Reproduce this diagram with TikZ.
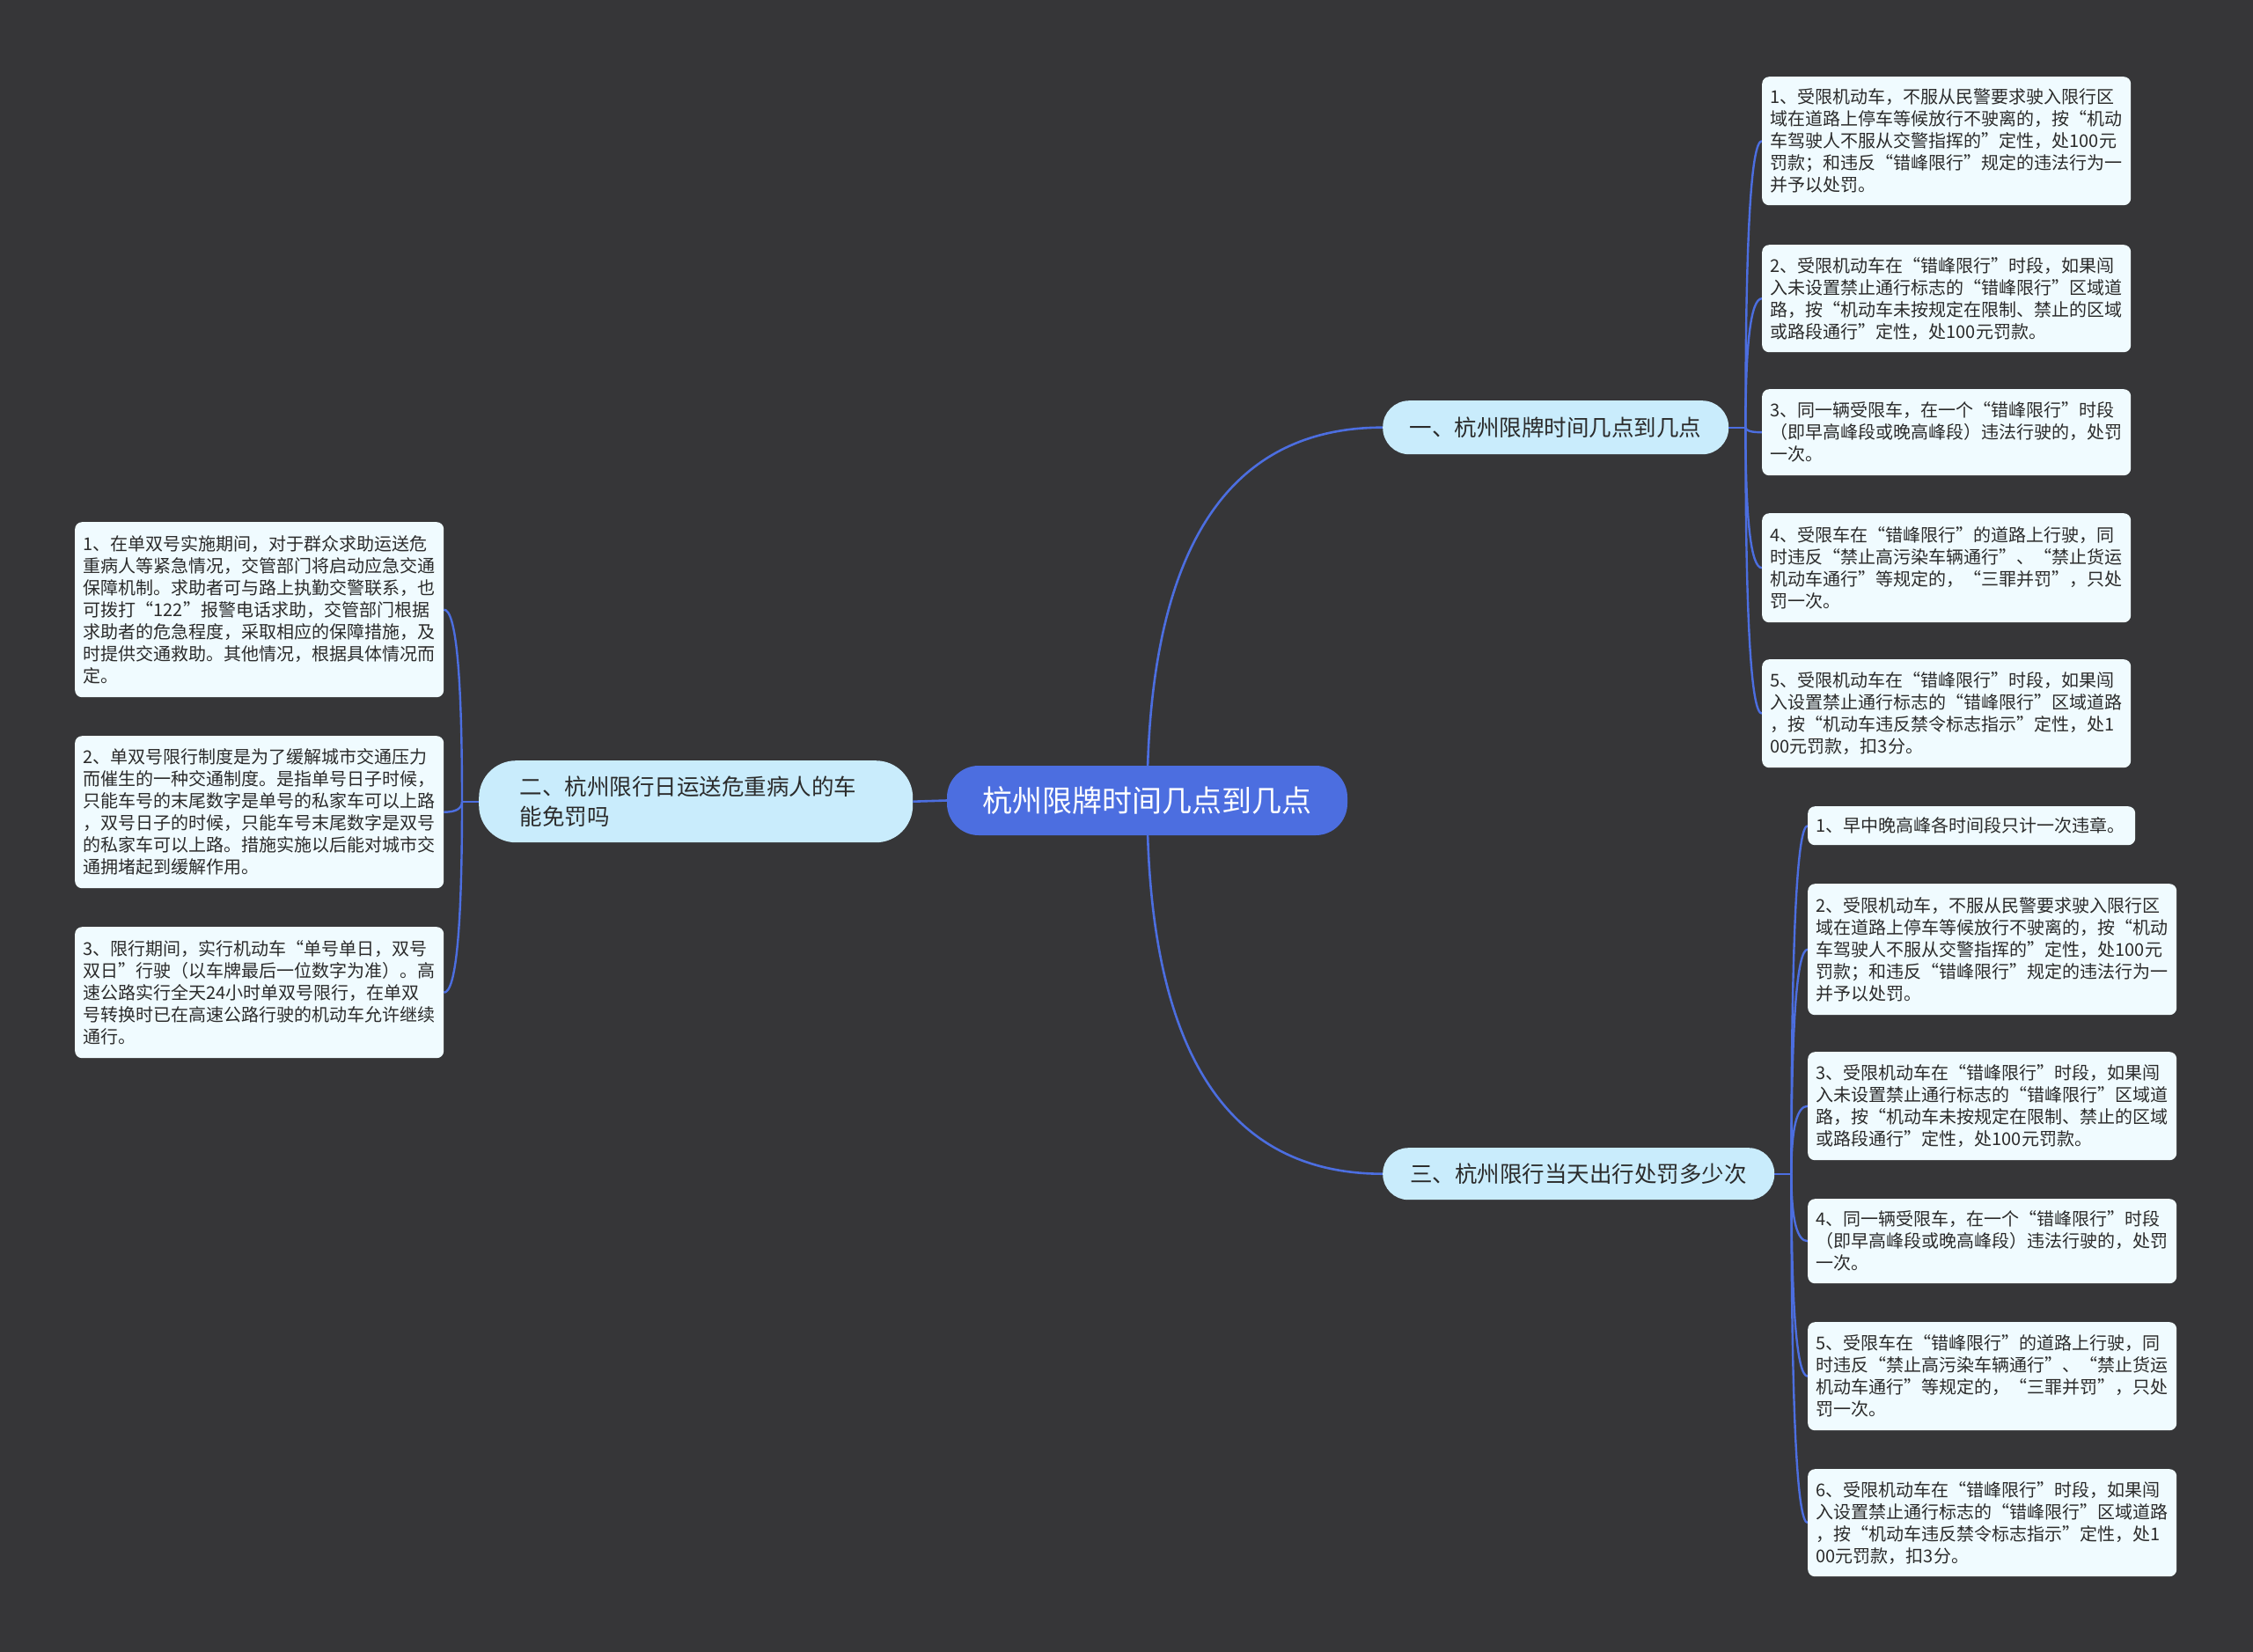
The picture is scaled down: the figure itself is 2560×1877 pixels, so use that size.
\documentclass[tikz,border=0pt]{standalone}
\usepackage{fontspec}
\setmainfont{Noto Sans CJK SC}
\usetikzlibrary{calc,backgrounds}
\definecolor{bgc}{HTML}{363638}
\definecolor{bluec}{HTML}{4C6EE0}
\definecolor{branchfill}{HTML}{C9ECFC}
\definecolor{leaffill}{HTML}{F0FBFF}
\definecolor{textc}{HTML}{2B2B2B}
\tikzset{
  leaf/.style={anchor=north west, fill=leaffill, rounded corners=8pt, text width=400pt,
    inner xsep=9.5pt, inner ysep=0pt, align=left, text=textc,
    font=\fontsize{20pt}{25pt}\selectfont},
  branch/.style={anchor=north west, fill=branchfill, text=textc, inner sep=0pt,
    font=\fontsize{25.5pt}{34pt}\selectfont},
  root/.style={fill=bluec, text=white, inner sep=0pt, rounded corners=36pt,
    minimum width=455pt, minimum height=79pt, font=\fontsize{34pt}{40pt}\selectfont},
  conn/.style={draw=bluec, line width=2.6pt},
  sub/.style={draw=bluec, line width=2.4pt}
}
\begin{document}
\begin{tikzpicture}[x=1pt,y=-1pt]
\useasboundingbox (0,0) rectangle (2560,1877);
% root and branches
\node[root] (c) at (1303.5,909.5) {杭州限牌时间几点到几点};
\node[branch, rounded corners=30pt, minimum width=393pt, minimum height=61pt] (b1) at (1571,455) {一、杭州限牌时间几点到几点};
\node[branch, rounded corners=29pt, minimum width=445pt, minimum height=59pt] (b3) at (1571,1304) {三、杭州限行当天出行处罚多少次};
\node[branch, rounded corners=42pt, text width=400pt, inner xsep=46.5pt, minimum height=93pt, align=left] (b2) at (544,864) {二、杭州限行日运送危重病人的车\\能免罚吗};
% group 1 leaves
\node[leaf, minimum height=146pt] (r1) at (2002,87) {1、受限机动车，不服从民警要求驶入限行区\\域在道路上停车等候放行不驶离的，按“机动\\车驾驶人不服从交警指挥的”定性，处100元\\罚款；和违反“错峰限行”规定的违法行为一\\并予以处罚。};
\node[leaf, minimum height=122pt] (r2) at (2002,278) {2、受限机动车在“错峰限行”时段，如果闯\\入未设置禁止通行标志的“错峰限行”区域道\\路，按“机动车未按规定在限制、禁止的区域\\或路段通行”定性，处100元罚款。};
\node[leaf, minimum height=98pt] (r3) at (2002,442) {3、同一辆受限车，在一个“错峰限行”时段\\（即早高峰段或晚高峰段）违法行驶的，处罚\\一次。};
\node[leaf, minimum height=124pt] (r4) at (2002,583) {4、受限车在“错峰限行”的道路上行驶，同\\时违反“禁止高污染车辆通行”、“禁止货运\\机动车通行”等规定的，“三罪并罚”，只处\\罚一次。};
\node[leaf, minimum height=123pt] (r5) at (2002,749) {5、受限机动车在“错峰限行”时段，如果闯\\入设置禁止通行标志的“错峰限行”区域道路\\，按“机动车违反禁令标志指示”定性，处1\\00元罚款，扣3分。};
% group 3 leaves
\node[leaf, minimum height=44pt, text width=353pt] (s1) at (2054,916) {1、早中晚高峰各时间段只计一次违章。};
\node[leaf, minimum height=149pt] (s2) at (2054,1004) {2、受限机动车，不服从民警要求驶入限行区\\域在道路上停车等候放行不驶离的，按“机动\\车驾驶人不服从交警指挥的”定性，处100元\\罚款；和违反“错峰限行”规定的违法行为一\\并予以处罚。};
\node[leaf, minimum height=123pt] (s3) at (2054,1195) {3、受限机动车在“错峰限行”时段，如果闯\\入未设置禁止通行标志的“错峰限行”区域道\\路，按“机动车未按规定在限制、禁止的区域\\或路段通行”定性，处100元罚款。};
\node[leaf, minimum height=96pt] (s4) at (2054,1362) {4、同一辆受限车，在一个“错峰限行”时段\\（即早高峰段或晚高峰段）违法行驶的，处罚\\一次。};
\node[leaf, minimum height=123pt] (s5) at (2054,1502) {5、受限车在“错峰限行”的道路上行驶，同\\时违反“禁止高污染车辆通行”、“禁止货运\\机动车通行”等规定的，“三罪并罚”，只处\\罚一次。};
\node[leaf, minimum height=122pt] (s6) at (2054,1669) {6、受限机动车在“错峰限行”时段，如果闯\\入设置禁止通行标志的“错峰限行”区域道路\\，按“机动车违反禁令标志指示”定性，处1\\00元罚款，扣3分。};
% left leaves
\node[leaf, minimum height=199pt] (l1) at (85,593) {1、在单双号实施期间，对于群众求助运送危\\重病人等紧急情况，交管部门将启动应急交通\\保障机制。求助者可与路上执勤交警联系，也\\可拨打“122”报警电话求助，交管部门根据\\求助者的危急程度，采取相应的保障措施，及\\时提供交通救助。其他情况，根据具体情况而\\定。};
\node[leaf, minimum height=173pt] (l2) at (85,836) {2、单双号限行制度是为了缓解城市交通压力\\而催生的一种交通制度。是指单号日子时候，\\只能车号的末尾数字是单号的私家车可以上路\\，双号日子的时候，只能车号末尾数字是双号\\的私家车可以上路。措施实施以后能对城市交\\通拥堵起到缓解作用。};
\node[leaf, minimum height=149pt] (l3) at (85,1053) {3、限行期间，实行机动车“单号单日，双号\\双日”行驶（以车牌最后一位数字为准）。高\\速公路实行全天24小时单双号限行，在单双\\号转换时已在高速公路行驶的机动车允许继续\\通行。};
\coordinate (j1) at ($(b1.east)+(19,0)$);
\coordinate (j3) at ($(b3.east)+(19,0)$);
\coordinate (j2) at ($(b2.west)+(-19,0)$);
\begin{scope}[on background layer]
\fill[bgc] (0,0) rectangle (2560,1877);
\draw[conn] (c.center) .. controls ($(c.center)!2/3!(c.center|-b1.west)$) and ($(b1.west)!2/3!(c.center|-b1.west)$) .. (b1.west);
\draw[conn] (c.center) .. controls ($(c.center)!2/3!(c.center|-b3.west)$) and ($(b3.west)!2/3!(c.center|-b3.west)$) .. (b3.west);
\draw[conn] (c.west) -- (b2.east);
\draw[sub] (b1.east) -- (j1);
\draw[sub] (b3.east) -- (j3);
\draw[sub] (b2.west) -- (j2);
\foreach \n in {r1,r2,r3,r4,r5}{
  \draw[sub] (j1) .. controls ($(j1)!2/3!(j1|-\n.west)$) and ($(\n.west)!2/3!(j1|-\n.west)$) .. (\n.west);
}
\foreach \n in {s1,s2,s3,s4,s5,s6}{
  \draw[sub] (j3) .. controls ($(j3)!2/3!(j3|-\n.west)$) and ($(\n.west)!2/3!(j3|-\n.west)$) .. (\n.west);
}
\foreach \n in {l1,l2,l3}{
  \draw[sub] (j2) .. controls ($(j2)!2/3!(j2|-\n.east)$) and ($(\n.east)!2/3!(j2|-\n.east)$) .. (\n.east);
}
\end{scope}
\end{tikzpicture}
\end{document}
